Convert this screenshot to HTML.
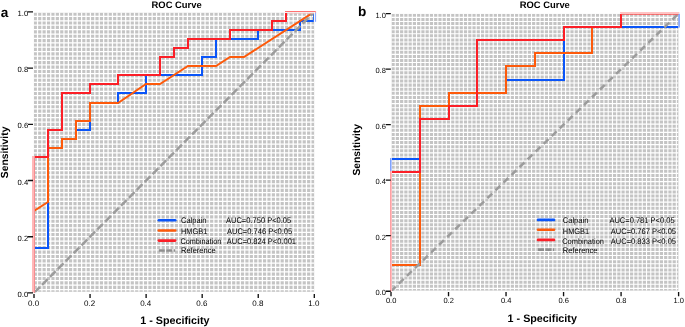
<!DOCTYPE html>
<html><head><meta charset="utf-8"><title>ROC Curves</title>
<style>
html,body{margin:0;padding:0;background:#fff;width:685px;height:327px;overflow:hidden}
svg{display:block;font-family:"Liberation Sans", sans-serif;will-change:transform;text-rendering:geometricPrecision}
</style></head><body>
<svg width="685" height="327" viewBox="0 0 685 327">
<rect width="685" height="327" fill="#fff"/>
<rect x="33.8" y="12.6" width="280.4" height="279.2" fill="#c4c4c4"/>
<path d="M33.11 12.6V291.8M37.52 12.6V291.8M41.93 12.6V291.8M46.34 12.6V291.8M50.75 12.6V291.8M55.15 12.6V291.8M59.56 12.6V291.8M63.97 12.6V291.8M68.38 12.6V291.8M72.79 12.6V291.8M77.2 12.6V291.8M81.61 12.6V291.8M86.02 12.6V291.8M90.42 12.6V291.8M94.83 12.6V291.8M99.24 12.6V291.8M103.65 12.6V291.8M108.06 12.6V291.8M112.47 12.6V291.8M116.88 12.6V291.8M121.29 12.6V291.8M125.69 12.6V291.8M130.1 12.6V291.8M134.51 12.6V291.8M138.92 12.6V291.8M143.33 12.6V291.8M147.74 12.6V291.8M152.15 12.6V291.8M156.55 12.6V291.8M160.96 12.6V291.8M165.37 12.6V291.8M169.78 12.6V291.8M174.19 12.6V291.8M178.6 12.6V291.8M183.01 12.6V291.8M187.42 12.6V291.8M191.82 12.6V291.8M196.23 12.6V291.8M200.64 12.6V291.8M205.05 12.6V291.8M209.46 12.6V291.8M213.87 12.6V291.8M218.28 12.6V291.8M222.69 12.6V291.8M227.09 12.6V291.8M231.5 12.6V291.8M235.91 12.6V291.8M240.32 12.6V291.8M244.73 12.6V291.8M249.14 12.6V291.8M253.55 12.6V291.8M257.96 12.6V291.8M262.36 12.6V291.8M266.77 12.6V291.8M271.18 12.6V291.8M275.59 12.6V291.8M280 12.6V291.8M284.41 12.6V291.8M288.82 12.6V291.8M293.22 12.6V291.8M297.63 12.6V291.8M302.04 12.6V291.8M306.45 12.6V291.8M310.86 12.6V291.8M315.27 12.6V291.8" stroke="#fff" stroke-width="1.25" fill="none"/>
<path d="M33.8 11.98H314.2M33.8 16.39H314.2M33.8 20.8H314.2M33.8 25.2H314.2M33.8 29.61H314.2M33.8 34.01H314.2M33.8 38.42H314.2M33.8 42.82H314.2M33.8 47.23H314.2M33.8 51.63H314.2M33.8 56.04H314.2M33.8 60.44H314.2M33.8 64.85H314.2M33.8 69.25H314.2M33.8 73.66H314.2M33.8 78.06H314.2M33.8 82.47H314.2M33.8 86.87H314.2M33.8 91.28H314.2M33.8 95.69H314.2M33.8 100.09H314.2M33.8 104.5H314.2M33.8 108.9H314.2M33.8 113.31H314.2M33.8 117.71H314.2M33.8 122.12H314.2M33.8 126.52H314.2M33.8 130.93H314.2M33.8 135.33H314.2M33.8 139.74H314.2M33.8 144.14H314.2M33.8 148.55H314.2M33.8 152.95H314.2M33.8 157.36H314.2M33.8 161.76H314.2M33.8 166.17H314.2M33.8 170.58H314.2M33.8 174.98H314.2M33.8 179.39H314.2M33.8 183.79H314.2M33.8 188.2H314.2M33.8 192.6H314.2M33.8 197.01H314.2M33.8 201.41H314.2M33.8 205.82H314.2M33.8 210.22H314.2M33.8 214.63H314.2M33.8 219.03H314.2M33.8 223.44H314.2M33.8 227.84H314.2M33.8 232.25H314.2M33.8 236.66H314.2M33.8 241.06H314.2M33.8 245.47H314.2M33.8 249.87H314.2M33.8 254.28H314.2M33.8 258.68H314.2M33.8 263.09H314.2M33.8 267.49H314.2M33.8 271.9H314.2M33.8 276.3H314.2M33.8 280.71H314.2M33.8 285.11H314.2M33.8 289.52H314.2" stroke="#fff" stroke-width="1.25" fill="none"/>
<clipPath id="aclip"><rect x="34" y="12.9" width="279.8" height="279.6"/></clipPath>
<g clip-path="url(#aclip)">
<path d="M34 248 L48 248 L48 148 L62 148 L62 139 L76 139 L76 130 L90 130 L90 103 L118 103 L118 93 L146 93 L146 75 L202 75 L202 57 L216 57 L216 39 L258 39 L258 30 L300 30 L300 21 L314 21 L314 12" stroke="#0a55f8" stroke-width="2" fill="none" stroke-linejoin="miter" stroke-linecap="butt" />
<path d="M34 211 L48 202 L48 148 L62 148 L62 139 L76 139 L76 121 L90 121 L90 103 L118 103 L146 84 L160 84 L188 66 L216 66 L230 57 L244 57 L314 12" stroke="#fd5a0b" stroke-width="2" fill="none" stroke-linejoin="miter" stroke-linecap="butt" />
<path d="M34 293 L34 157 L48 157 L48 130 L62 130 L62 93 L90 93 L90 84 L118 84 L118 75 L160 75 L160 57 L174 57 L174 48 L188 48 L188 39 L230 39 L230 30 L272 30 L272 21 L286 21 L286 12 L314 12" stroke="#fb1f27" stroke-width="2" fill="none" stroke-linejoin="miter" stroke-linecap="butt" />
<path d="M34 292.9L314.3 11.9" stroke="#9c9c9c" stroke-width="2.5" stroke-dasharray="8 3.18" stroke-dashoffset="10.97" fill="none"/>
</g>
<rect x="32" y="156" width="2" height="136.5" fill="#ffb8b8"/>
<rect x="34" y="156" width="1" height="136.5" fill="#f78c90"/>
<path d="M285 11.5H315.6V12.7" stroke="#ff7272" stroke-width="1" fill="none"/>
<path d="M287.5 13.3H313.8" stroke="#f6c4c4" stroke-width="0.8"/>
<path d="M315.6 12.7V21.8" stroke="#86a6ff" stroke-width="1"/>
<path d="M27.9 292.9H33M34 293.9V297.9M27.9 236.7H33M90.06 293.9V297.9M27.9 180.5H33M146.12 293.9V297.9M27.9 124.3H33M202.18 293.9V297.9M27.9 68.1H33M258.24 293.9V297.9M27.9 11.9H33M314.3 293.9V297.9" stroke="#111" stroke-width="1.35" fill="none"/>
<text x="28.2" y="297" text-anchor="end" font-size="7.7" fill="#000">0.0</text>
<text x="33.6" y="305.5" text-anchor="middle" font-size="8.0" fill="#000">0.0</text>
<text x="28.2" y="240.8" text-anchor="end" font-size="7.7" fill="#000">0.2</text>
<text x="89.66" y="305.5" text-anchor="middle" font-size="8.0" fill="#000">0.2</text>
<text x="28.2" y="184.6" text-anchor="end" font-size="7.7" fill="#000">0.4</text>
<text x="145.72" y="305.5" text-anchor="middle" font-size="8.0" fill="#000">0.4</text>
<text x="28.2" y="128.4" text-anchor="end" font-size="7.7" fill="#000">0.6</text>
<text x="201.78" y="305.5" text-anchor="middle" font-size="8.0" fill="#000">0.6</text>
<text x="28.2" y="72.2" text-anchor="end" font-size="7.7" fill="#000">0.8</text>
<text x="257.84" y="305.5" text-anchor="middle" font-size="8.0" fill="#000">0.8</text>
<text x="28.2" y="16" text-anchor="end" font-size="7.7" fill="#000">1.0</text>
<text x="313.9" y="305.5" text-anchor="middle" font-size="8.0" fill="#000">1.0</text>
<text x="151.6" y="7.7" font-size="9.4" font-weight="bold" fill="#000">ROC Curve</text>
<text x="0.8" y="17" font-size="13.6" font-weight="bold" fill="#000">a</text>
<text transform="translate(8.4 152.4) rotate(-90)" text-anchor="middle" font-size="10.3" font-weight="bold" fill="#000">Sensitivity</text>
<text x="140.2" y="323.8" font-size="10.75" font-weight="bold" fill="#000">1 - Specificity</text>
<path d="M158.8 220.3H175.2" stroke="#0a55f8" stroke-width="2.6" stroke-linecap="round"/>
<path d="M158.8 230.5H175.2" stroke="#fd5a0b" stroke-width="2.6" stroke-linecap="round"/>
<path d="M158.8 240.6H175.2" stroke="#fb1f27" stroke-width="2.6" stroke-linecap="round"/>
<path d="M158.8 250.5H175.2" stroke="#8e8e8e" stroke-width="2.6" stroke-dasharray="6 1.4"/>
<text x="181" y="223.4" font-size="8.1" textLength="25.4" lengthAdjust="spacingAndGlyphs" fill="#000">Calpain</text>
<text x="181" y="233.5" font-size="8.1" textLength="26.3" lengthAdjust="spacingAndGlyphs" fill="#000">HMGB1</text>
<text x="180.4" y="243.6" font-size="8.1" textLength="40.9" lengthAdjust="spacingAndGlyphs" fill="#000">Combination</text>
<text x="181" y="252.8" font-size="8.1" textLength="34.6" lengthAdjust="spacingAndGlyphs" fill="#000">Reference</text>
<text x="226" y="223.4" font-size="8.1" textLength="65.2" lengthAdjust="spacingAndGlyphs" fill="#000">AUC=0.750 P&lt;0.05</text>
<text x="227" y="233.5" font-size="8.1" textLength="65.2" lengthAdjust="spacingAndGlyphs" fill="#000">AUC=0.746 P&lt;0.05</text>
<text x="226.8" y="243.6" font-size="8.1" textLength="69.2" lengthAdjust="spacingAndGlyphs" fill="#000">AUC=0.824 P&lt;0.001</text>
<rect x="391.4" y="13.8" width="287" height="276.8" fill="#c4c4c4"/>
<path d="M390.99 13.8V290.6M395.25 13.8V290.6M399.51 13.8V290.6M403.77 13.8V290.6M408.03 13.8V290.6M412.29 13.8V290.6M416.54 13.8V290.6M420.8 13.8V290.6M425.06 13.8V290.6M429.32 13.8V290.6M433.58 13.8V290.6M437.84 13.8V290.6M442.1 13.8V290.6M446.36 13.8V290.6M450.62 13.8V290.6M454.87 13.8V290.6M459.13 13.8V290.6M463.39 13.8V290.6M467.65 13.8V290.6M471.91 13.8V290.6M476.17 13.8V290.6M480.43 13.8V290.6M484.69 13.8V290.6M488.95 13.8V290.6M493.2 13.8V290.6M497.46 13.8V290.6M501.72 13.8V290.6M505.98 13.8V290.6M510.24 13.8V290.6M514.5 13.8V290.6M518.76 13.8V290.6M523.02 13.8V290.6M527.28 13.8V290.6M531.53 13.8V290.6M535.79 13.8V290.6M540.05 13.8V290.6M544.31 13.8V290.6M548.57 13.8V290.6M552.83 13.8V290.6M557.09 13.8V290.6M561.35 13.8V290.6M565.61 13.8V290.6M569.86 13.8V290.6M574.12 13.8V290.6M578.38 13.8V290.6M582.64 13.8V290.6M586.9 13.8V290.6M591.16 13.8V290.6M595.42 13.8V290.6M599.68 13.8V290.6M603.94 13.8V290.6M608.2 13.8V290.6M612.45 13.8V290.6M616.71 13.8V290.6M620.97 13.8V290.6M625.23 13.8V290.6M629.49 13.8V290.6M633.75 13.8V290.6M638.01 13.8V290.6M642.27 13.8V290.6M646.53 13.8V290.6M650.78 13.8V290.6M655.04 13.8V290.6M659.3 13.8V290.6M663.56 13.8V290.6M667.82 13.8V290.6M672.08 13.8V290.6M676.34 13.8V290.6" stroke="#fff" stroke-width="1.1" fill="none"/>
<path d="M391.4 13.26H678.4M391.4 17.37H678.4M391.4 21.48H678.4M391.4 25.58H678.4M391.4 29.69H678.4M391.4 33.8H678.4M391.4 37.9H678.4M391.4 42.01H678.4M391.4 46.11H678.4M391.4 50.22H678.4M391.4 54.33H678.4M391.4 58.43H678.4M391.4 62.54H678.4M391.4 66.65H678.4M391.4 70.75H678.4M391.4 74.86H678.4M391.4 78.96H678.4M391.4 83.07H678.4M391.4 87.18H678.4M391.4 91.28H678.4M391.4 95.39H678.4M391.4 99.5H678.4M391.4 103.6H678.4M391.4 107.71H678.4M391.4 111.81H678.4M391.4 115.92H678.4M391.4 120.03H678.4M391.4 124.13H678.4M391.4 128.24H678.4M391.4 132.35H678.4M391.4 136.45H678.4M391.4 140.56H678.4M391.4 144.67H678.4M391.4 148.77H678.4M391.4 152.88H678.4M391.4 156.98H678.4M391.4 161.09H678.4M391.4 165.2H678.4M391.4 169.3H678.4M391.4 173.41H678.4M391.4 177.52H678.4M391.4 181.62H678.4M391.4 185.73H678.4M391.4 189.83H678.4M391.4 193.94H678.4M391.4 198.05H678.4M391.4 202.15H678.4M391.4 206.26H678.4M391.4 210.37H678.4M391.4 214.47H678.4M391.4 218.58H678.4M391.4 222.69H678.4M391.4 226.79H678.4M391.4 230.9H678.4M391.4 235H678.4M391.4 239.11H678.4M391.4 243.22H678.4M391.4 247.32H678.4M391.4 251.43H678.4M391.4 255.54H678.4M391.4 259.64H678.4M391.4 263.75H678.4M391.4 267.85H678.4M391.4 271.96H678.4M391.4 276.07H678.4M391.4 280.17H678.4M391.4 284.28H678.4M391.4 288.39H678.4" stroke="#fff" stroke-width="1.1" fill="none"/>
<clipPath id="bclip"><rect x="391" y="13.9" width="287.3" height="277.1"/></clipPath>
<g clip-path="url(#bclip)">
<path d="M391 159 L420 159 L420 119 L449 119 L449 93 L506 93 L506 80 L564 80 L564 27 L679 27 L679 14" stroke="#0a55f8" stroke-width="2" fill="none" stroke-linejoin="miter" stroke-linecap="butt" />
<path d="M391 265 L420 265 L420 106 L449 106 L449 93 L506 93 L506 66 L535 66 L535 53 L592 53 L592 27 L621 27 L621 14" stroke="#fd5a0b" stroke-width="2" fill="none" stroke-linejoin="miter" stroke-linecap="butt" />
<path d="M391 291 L391 172 L420 172 L420 119 L449 119 L449 106 L477 106 L477 40 L564 40 L564 27 L621 27 L621 14" stroke="#fb1f27" stroke-width="2" fill="none" stroke-linejoin="miter" stroke-linecap="butt" />
<path d="M391 291.2L678.6 13.6" stroke="#9c9c9c" stroke-width="2.5" stroke-dasharray="6.7 4.48" stroke-dashoffset="0.23" fill="none"/>
</g>
<rect x="390" y="171" width="1" height="120.5" fill="#ffa0a3"/>
<rect x="391" y="171" width="1" height="120.5" fill="#ffbcbe"/>
<rect x="390" y="158" width="1" height="13" fill="#7fa2ff"/>
<rect x="391" y="158" width="1" height="13" fill="#b4c8ff"/>
<path d="M620 12.7H679.4" stroke="#ffc4c4" stroke-width="1.6" fill="none"/>
<path d="M621 14.3H678.6" stroke="#ff4a4a" stroke-width="0.9"/>
<path d="M679.3 13.8V27.6" stroke="#6f95ff" stroke-width="1"/>
<path d="M385.8 291.2H390.8M391 292V296.2M385.8 235.68H390.8M448.52 292V296.2M385.8 180.16H390.8M506.04 292V296.2M385.8 124.64H390.8M563.56 292V296.2M385.8 69.12H390.8M621.08 292V296.2M385.8 13.6H390.8M678.6 292V296.2" stroke="#111" stroke-width="1.35" fill="none"/>
<text x="385.9" y="295.3" text-anchor="end" font-size="7.5" fill="#000">0.0</text>
<text x="391.1" y="303.2" text-anchor="middle" font-size="7.5" fill="#000">0.0</text>
<text x="385.9" y="239.78" text-anchor="end" font-size="7.5" fill="#000">0.2</text>
<text x="448.62" y="303.2" text-anchor="middle" font-size="7.5" fill="#000">0.2</text>
<text x="385.9" y="184.26" text-anchor="end" font-size="7.5" fill="#000">0.4</text>
<text x="506.14" y="303.2" text-anchor="middle" font-size="7.5" fill="#000">0.4</text>
<text x="385.9" y="128.74" text-anchor="end" font-size="7.5" fill="#000">0.6</text>
<text x="563.66" y="303.2" text-anchor="middle" font-size="7.5" fill="#000">0.6</text>
<text x="385.9" y="73.22" text-anchor="end" font-size="7.5" fill="#000">0.8</text>
<text x="621.18" y="303.2" text-anchor="middle" font-size="7.5" fill="#000">0.8</text>
<text x="385.9" y="17.7" text-anchor="end" font-size="7.5" fill="#000">1.0</text>
<text x="678.7" y="303.2" text-anchor="middle" font-size="7.5" fill="#000">1.0</text>
<text x="519.8" y="7.6" font-size="9.4" font-weight="bold" fill="#000">ROC Curve</text>
<text x="358" y="16" font-size="13.6" font-weight="bold" fill="#000">b</text>
<text transform="translate(360.4 149.8) rotate(-90)" text-anchor="middle" font-size="10.3" font-weight="bold" fill="#000">Sensitivity</text>
<text x="507.6" y="321.6" font-size="10.75" font-weight="bold" fill="#000">1 - Specificity</text>
<path d="M538 219.9H554" stroke="#0a55f8" stroke-width="2.6" stroke-linecap="round"/>
<path d="M538 229.7H554" stroke="#fd5a0b" stroke-width="2.6" stroke-linecap="round"/>
<path d="M538 239.9H554" stroke="#fb1f27" stroke-width="2.6" stroke-linecap="round"/>
<path d="M538 249.6H554" stroke="#8e8e8e" stroke-width="2.6" stroke-dasharray="6 1.4"/>
<text x="562.8" y="223.3" font-size="8.1" textLength="25.6" lengthAdjust="spacingAndGlyphs" fill="#000">Calpain</text>
<text x="562.8" y="234" font-size="8.1" textLength="26.3" lengthAdjust="spacingAndGlyphs" fill="#000">HMGB1</text>
<text x="562.2" y="243.5" font-size="8.1" textLength="41.8" lengthAdjust="spacingAndGlyphs" fill="#000">Combination</text>
<text x="562.8" y="252.5" font-size="8.1" textLength="34.6" lengthAdjust="spacingAndGlyphs" fill="#000">Reference</text>
<text x="609.4" y="223.3" font-size="8.1" textLength="65.2" lengthAdjust="spacingAndGlyphs" fill="#000">AUC=0.781 P&lt;0.05</text>
<text x="610.8" y="234" font-size="8.1" textLength="65.2" lengthAdjust="spacingAndGlyphs" fill="#000">AUC=0.767 P&lt;0.05</text>
<text x="610.8" y="243.5" font-size="8.1" textLength="65.2" lengthAdjust="spacingAndGlyphs" fill="#000">AUC=0.833 P&lt;0.05</text>
</svg>
</body></html>
